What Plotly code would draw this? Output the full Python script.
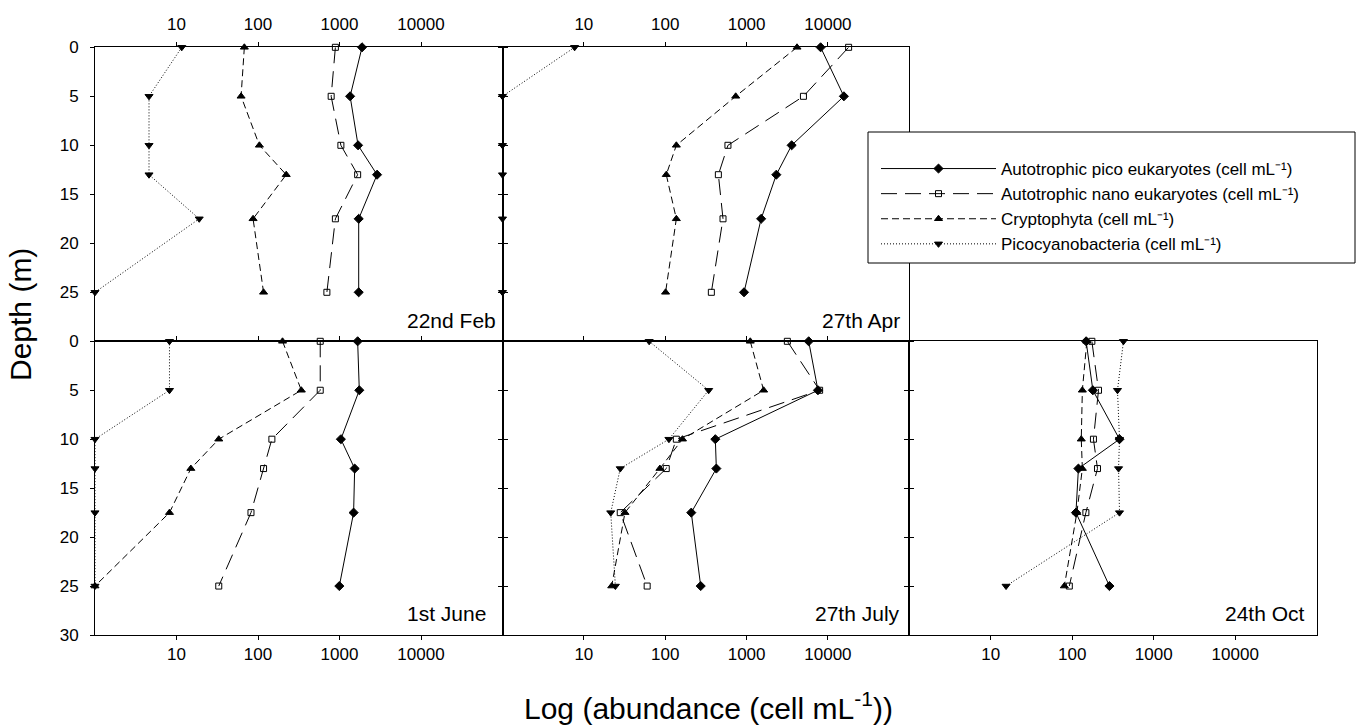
import plotly.graph_objects as go

# ---------------- data ----------------
depth = [0, 5, 10, 13, 17.5, 25]
panels = ["22nd Feb", "27th Apr", "1st June", "27th July", "24th Oct"]

# values of 1 are zero counts drawn on the axis baseline
pico_euk = [
    [1890, 1350, 1690, 2890, 1720, 1720],
    [8130, 15700, 3580, 2320, 1510, 930],
    [1670, 1750, 1040, 1535, 1490, 995],
    [5800, 7540, 413, 425, 209, 273],
    [148, 179, 380, 119, 111, 286],
]
nano_euk = [
    [890, 790, 1040, 1670, 890, 700],
    [17950, 5000, 590, 450, 513, 369],
    [580, 580, 148, 117, 82, 33],
    [3170, 7900, 137, 103, 28, 60],
    [174, 210, 182, 204, 147, 92],
]
crypto = [
    [68, 62, 104, 222, 87, 117],
    [4170, 735, 137, 103, 137, 101],
    [200, 340, 33, 15, 8.2, 1],
    [1110, 1620, 163, 86, 32, 22],
    [151, 133, 129, 133, 114, 80],
]
picocyano = [
    [11.6, 4.6, 4.6, 4.6, 19, 1],
    [7.7, 1, 1, 1, 1, 1],
    [8.2, 8.2, 1, 1, 1, 1],
    [63.5, 342, 111, 28, 21.4, 24.4],
    [425, 359, 380, 370, 380, 15.4],
]

series_names = [
    "Autotrophic pico eukaryotes (cell mL\u207b\u00b9)",
    "Autotrophic nano eukaryotes (cell mL\u207b\u00b9)",
    "Cryptophyta (cell mL\u207b\u00b9)",
    "Picocyanobacteria (cell mL\u207b\u00b9)",
]
x_tickvals = [10, 100, 1000, 10000]
x_ticktext = ["10", "100", "1000", "10000"]
y_tickvals_top = [0, 5, 10, 15, 20, 25]
y_tickvals_bot = [0, 5, 10, 15, 20, 25, 30]

# ---------------- styles ----------------
FONT = "Liberation Sans, Arial, sans-serif"
W, H = 1365, 727
styles = [
    dict(dash="solid", symbol="diamond", size=7),
    dict(dash="16px,8px", symbol="square-open", size=6),
    dict(dash="7px,4px", symbol="triangle-up", size=7),
    dict(dash="1px,2px", symbol="triangle-down", size=7),
]
all_series = [pico_euk, nano_euk, crypto, picocyano]

xL = [95 / W, 502.5 / W]
xM = [502.5 / W, 909.3 / W]
xR = [909.3 / W, 1316.7 / W]
yT = [1 - 341.3 / H, 1 - 47.3 / H]
yB = [1 - 635 / H, 1 - 341.3 / H]
# panel order: Feb(TL), Apr(TM), June(BL), July(BM), Oct(BR)
doms = [(xL, yT), (xM, yT), (xL, yB), (xM, yB), (xR, yB)]

fig = go.Figure()
for p in range(5):
    ax = "" if p == 0 else str(p + 1)
    for s, (ser, st) in enumerate(zip(all_series, styles)):
        fig.add_trace(go.Scatter(
            x=ser[p], y=depth, mode="lines+markers",
            xaxis="x" + ax, yaxis="y" + ax,
            name=series_names[s], legendgroup=str(s), showlegend=(p == 0),
            line=dict(color="black", width=1, dash=st["dash"]),
            marker=dict(symbol=st["symbol"], size=st["size"], color="black",
                        line=dict(color="black", width=1)),
            cliponaxis=False,
        ))

tickfont = dict(family=FONT, size=17, color="black")
layout = dict(
    width=W, height=H, margin=dict(l=0, r=0, t=0, b=0, autoexpand=False),
    paper_bgcolor="white", plot_bgcolor="white",
    font=dict(family=FONT, color="black"),
    showlegend=True,
    legend=dict(x=876 / W, y=1 - 151 / H, xanchor="left", yanchor="top",
                bgcolor="rgba(0,0,0,0)", borderwidth=0,
                font=dict(family=FONT, size=17, color="black"),
                itemwidth=115, tracegroupgap=0),
)
for p, (dx, dy) in enumerate(doms):
    ax = "" if p == 0 else str(p + 1)
    top = p in (0, 1)
    xa = dict(domain=dx, anchor="y" + ax, type="log", range=[0, 5],
              tickvals=x_tickvals, ticktext=x_ticktext,
              showgrid=False, zeroline=False, showline=True, automargin=False,
              linecolor="black", linewidth=1, ticks="outside", ticklen=4,
              tickcolor="black", tickfont=tickfont,
              side="top" if top else "bottom",
              mirror=True if (top or p == 4) else "ticks",
              ticklabelstandoff=6 if top else 0)
    ya = dict(domain=dy, anchor="x" + ax, range=[30, 0],
              tickvals=y_tickvals_top if top else y_tickvals_bot,
              showgrid=False, zeroline=False, showline=True, automargin=False,
              linecolor="black", linewidth=1, ticks="outside", ticklen=4,
              tickcolor="black", tickfont=tickfont,
              showticklabels=(p in (0, 2)),
              mirror="ticks" if p in (0, 2, 3) else True,
              ticklabelstandoff=8)
    layout["xaxis" + ax] = xa
    layout["yaxis" + ax] = ya

fig.update_layout(**layout)

# panel date labels
label_shift = [-5, -7, -15, -7, -10]
for p in range(5):
    ax = "" if p == 0 else str(p + 1)
    fig.add_annotation(text=panels[p], xref="x" + ax + " domain", yref="y" + ax + " domain",
                       x=1, y=0.072, xanchor="right", yanchor="middle", showarrow=False,
                       xshift=label_shift[p], font=dict(family=FONT, size=21, color="black"))

# axis titles
fig.add_annotation(text="Depth (m)", xref="paper", yref="paper", x=21 / W, y=1 - 315 / H,
                   textangle=-90, showarrow=False, xanchor="center", yanchor="middle",
                   font=dict(family=FONT, size=30, color="black"))
fig.add_annotation(text="Log (abundance (cell mL<sup>-1</sup>))", xref="paper", yref="paper",
                   x=708 / W, y=1 - 706 / H, showarrow=False, xanchor="center", yanchor="middle",
                   font=dict(family=FONT, size=30, color="black"))

# legend frame
fig.add_shape(type="rect", xref="paper", yref="paper",
              x0=868 / W, x1=1355 / W, y0=1 - 263 / H, y1=1 - 132 / H,
              line=dict(color="black", width=1), fillcolor="white", layer="above")

fig.write_html("out.html")
